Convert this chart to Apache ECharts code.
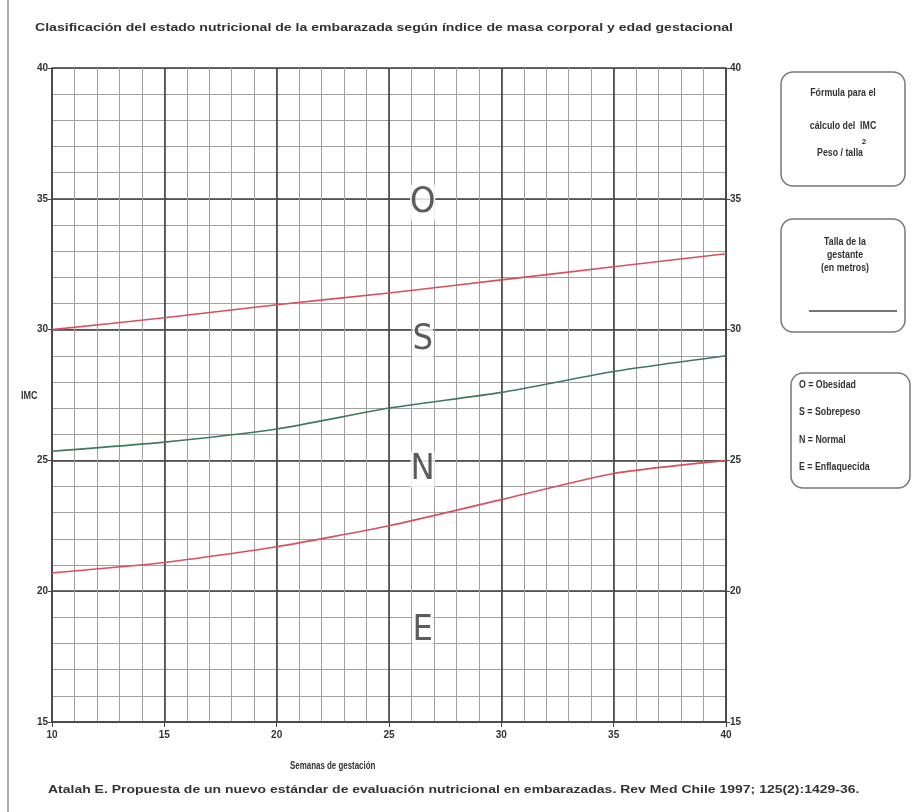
<!DOCTYPE html>
<html>
<head>
<meta charset="utf-8">
<script src="https://cdn.jsdelivr.net/npm/echarts@6/dist/echarts.min.js"></script>
<style>html,body{margin:0;padding:0;background:#fff;}#c{width:914px;height:812px;}</style>
</head>
<body>
<div id="c"></div>
<script>
const weeks = [10, 15, 20, 25, 30, 35, 40];
const obesityLimit = [30.0, 30.45, 30.95, 31.4, 31.9, 32.4, 32.9];
const normalMid = [25.35, 25.7, 26.2, 27.0, 27.6, 28.4, 29.0];
const underweightLimit = [20.7, 21.1, 21.7, 22.5, 23.5, 24.5, 25.0];
const zoneLetters = [[26.5, 34.85, 'O'], [26.5, 29.6, 'S'], [26.5, 24.65, 'N'], [26.5, 18.5, 'E']];
const titleText = 'Clasificación del estado nutricional de la embarazada según índice de masa corporal y edad gestacional';
const xName = 'Semanas de gestación';
const yName = 'IMC';
const sourceText = 'Atalah E. Propuesta de un nuevo estándar de evaluación nutricional en embarazadas. Rev Med Chile 1997; 125(2):1429-36.';

const FONT = "'Liberation Sans',Arial,sans-serif";
const chart = echarts.init(document.getElementById('c'));
const pair = arr => weeks.map((w, i) => [w, arr[i]]);
const labelStyle = { fontFamily: FONT, fontSize: 10, fontWeight: 'bold', color: '#333' };
const boxText = (x, y, text, align) => ({ type: 'text', x: x, y: y, scaleX: 0.88,
  style: { text: text, align: align || 'center', verticalAlign: 'middle', fontFamily: FONT, fontSize: 10, fontWeight: 'bold', fill: '#333' } });

chart.setOption({
  animation: false,
  backgroundColor: '#fff',
  grid: { left: 52, right: 188, top: 68, bottom: 90, containLabel: false },
  xAxis: [
    { type: 'value', min: 10, max: 40, interval: 1, position: 'top',
      axisLine: { show: false }, axisTick: { show: false }, axisLabel: { show: false },
      splitLine: { show: true, lineStyle: { color: '#a0a0a0', width: 1 } } },
    { type: 'value', min: 10, max: 40, interval: 5, position: 'bottom',
      axisLine: { show: true, onZero: false, lineStyle: { color: '#444', width: 1.5 } },
      axisTick: { show: true, length: 5, lineStyle: { color: '#444' } },
      axisLabel: Object.assign({ margin: 8 }, labelStyle),
      splitLine: { show: true, lineStyle: { color: '#3a3a3a', width: 1.5 } } }
  ],
  yAxis: [
    { type: 'value', min: 15, max: 40, interval: 1, position: 'right',
      axisLine: { show: false }, axisTick: { show: false }, axisLabel: { show: false },
      splitLine: { show: true, lineStyle: { color: '#a0a0a0', width: 1 } } },
    { type: 'value', min: 15, max: 40, interval: 5, position: 'left',
      axisLine: { show: true, onZero: false, lineStyle: { color: '#444', width: 1.5 } },
      axisTick: { show: true, length: 4, lineStyle: { color: '#444' } },
      axisLabel: Object.assign({ margin: 4 }, labelStyle),
      splitLine: { show: true, lineStyle: { color: '#3a3a3a', width: 1.5 } } },
    { type: 'value', min: 15, max: 40, interval: 5, position: 'right', offset: 0,
      axisLine: { show: true, onZero: false, lineStyle: { color: '#444', width: 1.5 } },
      axisTick: { show: true, length: 4, lineStyle: { color: '#444' } },
      axisLabel: Object.assign({ margin: 4 }, labelStyle),
      splitLine: { show: false } }
  ],
  series: [
    { type: 'line', xAxisIndex: 1, yAxisIndex: 1, data: pair(obesityLimit), symbol: 'none', smooth: 0.2,
      lineStyle: { color: '#d8505e', width: 1.6 }, z: 5 },
    { type: 'line', xAxisIndex: 1, yAxisIndex: 1, data: pair(normalMid), symbol: 'none', smooth: 0.2,
      lineStyle: { color: '#3e7a5c', width: 1.6 }, z: 5 },
    { type: 'line', xAxisIndex: 1, yAxisIndex: 1, data: pair(underweightLimit), symbol: 'none', smooth: 0.2,
      lineStyle: { color: '#d8505e', width: 1.6 }, z: 5 },
    { type: 'scatter', xAxisIndex: 1, yAxisIndex: 1, data: zoneLetters, symbolSize: 0, z: 6,
      label: { show: true, position: 'inside', formatter: p => p.value[2],
        fontFamily: "'DejaVu Sans Condensed','Liberation Sans',Arial,sans-serif", fontSize: 36, color: '#333',
        backgroundColor: '#fff', padding: [0, 0] } }
  ],
  graphic: [
    { type: 'line', shape: { x1: 8, y1: 0, x2: 8, y2: 812 }, style: { stroke: '#b0b0b0', lineWidth: 2 } },
    { type: 'text', x: 35, y: 28, scaleX: 1.28, style: { text: titleText, verticalAlign: 'middle', fontFamily: FONT, fontSize: 11, fontWeight: 'bold', fill: '#333' } },
    { type: 'text', x: 21, y: 396, scaleX: 0.9, style: { text: yName, verticalAlign: 'middle', fontFamily: FONT, fontSize: 10, fontWeight: 'bold', fill: '#333' } },
    { type: 'text', x: 290, y: 766, scaleX: 0.72, style: { text: xName, verticalAlign: 'middle', fontFamily: FONT, fontSize: 11, fontWeight: 'bold', fill: '#333' } },
    { type: 'text', x: 48, y: 790, scaleX: 1.27, style: { text: sourceText, verticalAlign: 'middle', fontFamily: FONT, fontSize: 11, fontWeight: 'bold', fill: '#333' } },
    { type: 'rect', shape: { x: 781, y: 72, width: 124, height: 114, r: 12 }, style: { fill: 'none', stroke: '#777', lineWidth: 1.5 } },
    boxText(843, 93, 'Fórmula para el'),
    boxText(843, 126, 'cálculo del  IMC'),
    boxText(840, 153, 'Peso / talla'),
    { type: 'text', x: 864, y: 142, style: { text: '2', align: 'center', verticalAlign: 'middle', fontFamily: FONT, fontSize: 8, fontWeight: 'bold', fill: '#333' } },
    { type: 'rect', shape: { x: 781, y: 219, width: 124, height: 113, r: 12 }, style: { fill: 'none', stroke: '#777', lineWidth: 1.5 } },
    boxText(845, 242, 'Talla de la'),
    boxText(845, 255, 'gestante'),
    boxText(845, 268, '(en metros)'),
    { type: 'line', shape: { x1: 809, y1: 311, x2: 897, y2: 311 }, style: { stroke: '#444', lineWidth: 1.5 } },
    { type: 'rect', shape: { x: 791, y: 373, width: 119, height: 115, r: 12 }, style: { fill: 'none', stroke: '#777', lineWidth: 1.5 } },
    boxText(799, 385, 'O = Obesidad', 'left'),
    boxText(799, 412, 'S = Sobrepeso', 'left'),
    boxText(799, 440, 'N = Normal', 'left'),
    boxText(799, 467, 'E = Enflaquecida', 'left')
  ]
});
</script>
</body>
</html>
